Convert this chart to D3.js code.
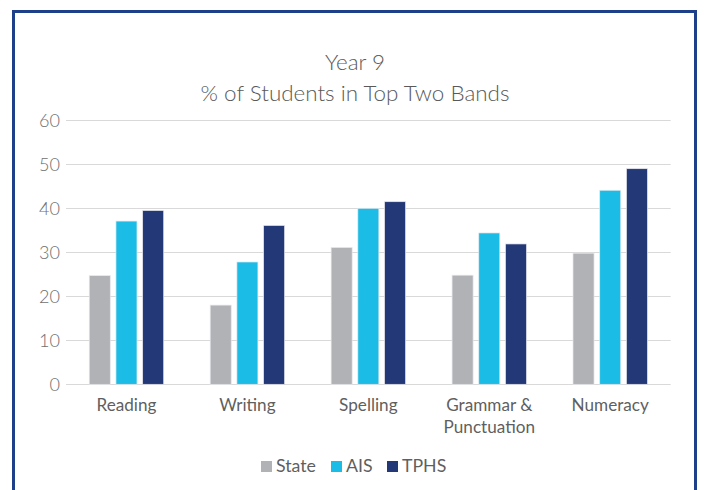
<!DOCTYPE html>
<html><head><meta charset="utf-8">
<script src="https://cdn.jsdelivr.net/npm/d3@7"></script>
<style>body{margin:0;background:#fff}svg{display:block}text{font-family:Lato,"Open Sans",sans-serif;font-weight:300}</style>
</head><body><svg id="c" width="704" height="490"></svg>
<script>
const categories = ["Reading", "Writing", "Spelling", "Grammar & Punctuation", "Numeracy"];
const seriesNames = ["State", "AIS", "TPHS"];
const stateVals = [24.7, 18.0, 31.1, 24.8, 29.8];
const aisVals = [37.1, 27.8, 40.0, 34.4, 44.1];
const tphsVals = [39.5, 36.1, 41.5, 31.9, 49.0];
const yTicks = [0, 10, 20, 30, 40, 50, 60];
const colors = ["#b1b2b6", "#1bbde6", "#233876"];
const seriesVals = [stateVals, aisVals, tphsVals];
const labelLines = {"Grammar & Punctuation": ["Grammar &", "Punctuation"]};

const svg = d3.select("#c");
function fit(sel, target) {
  const n = sel.node(); const fs = parseFloat(sel.attr("font-size"));
  const w = n.getComputedTextLength();
  const s = fs * target / w; sel.attr("font-size", s); return s;
}
// border
svg.append("rect").attr("x", 13.5).attr("y", 11.5).attr("width", 682).attr("height", 500)
  .attr("fill", "none").attr("stroke", "#1e3f8a").attr("stroke-width", 3);

const x0 = d3.scaleBand().domain(categories).range([66, 670.7]);
const x1 = d3.scaleBand().domain(seriesNames).range([0, x0.bandwidth()]).paddingInner(0.213).paddingOuter(0.87);
const y = d3.scaleLinear().domain([0, 60]).range([384.3, 120.3]);

// gridlines
svg.append("g").selectAll("line").data(yTicks).join("line")
  .attr("x1", 66).attr("x2", 670.7).attr("y1", d => Math.round(y(d)) + 0.5).attr("y2", d => Math.round(y(d)) + 0.5)
  .attr("stroke", "#d9d9d9").attr("stroke-width", 1);

// y tick labels
const t60 = svg.append("text").attr("font-size", 19).text("60");
const yfs = fit(t60, 21); t60.remove();
svg.append("g").selectAll("text").data(yTicks).join("text")
  .attr("x", 60).attr("y", d => y(d) + yfs * 0.36).attr("text-anchor", "end")
  .attr("font-size", yfs).attr("fill", "#6f6f6f").text(d => d);

// bars
const groups = svg.append("g").selectAll("g").data(categories).join("g")
  .attr("transform", c => `translate(${x0(c)},0)`);
groups.selectAll("rect").data((c, i) => seriesNames.map((s, j) => ({s, v: seriesVals[j][i], j})))
  .join("rect")
  .attr("x", d => x1(d.s)).attr("width", x1.bandwidth())
  .attr("y", d => y(d.v)).attr("height", d => y(0) - y(d.v))
  .attr("fill", d => colors[d.j]).attr("stroke", "#e8e8ee").attr("stroke-width", 0.7);

// x labels
const tr = svg.append("text").attr("font-size", 16).style("font-weight", 400).text("Reading");
const xfs = fit(tr, 60); const lh = tr.node().getBBox().height; tr.remove();
const xlData = [];
categories.forEach(c => (labelLines[c] || [c]).forEach((t, k) => xlData.push({c, t, k})));
svg.append("g").selectAll("text").data(xlData).join("text")
  .attr("x", d => x0(d.c) + x0.bandwidth() / 2).attr("y", d => 411 + d.k * Math.max(17, lh + 0.5))
  .attr("text-anchor", "middle").attr("font-size", xfs).style("font-weight", 400)
  .attr("fill", "#5f5f5f").text(d => d.t);

// title
const t1 = svg.append("text").attr("text-anchor", "middle").attr("fill", "#595959").attr("font-size", 20)
  .attr("x", 355).attr("y", 101).text("% of Students in Top Two Bands");
const tfs = fit(t1, 309);
svg.append("text").attr("text-anchor", "middle").attr("fill", "#595959").attr("font-size", tfs)
  .attr("x", 355).attr("y", 70).text("Year 9");

// legend
const legX = [261, 331, 387];
const ts = svg.append("text").attr("font-size", 16).style("font-weight", 400).text("State");
const lfs = fit(ts, 40); ts.remove();
const leg = svg.append("g").selectAll("g").data(seriesNames).join("g")
  .attr("transform", (d, i) => `translate(${legX[i]},461)`);
leg.append("rect").attr("width", 11).attr("height", 11).attr("fill", (d, i) => colors[i]);
leg.append("text").attr("x", 15).attr("y", 11).attr("font-size", lfs).style("font-weight", 400)
  .attr("fill", "#5f5f5f").text(d => d);
</script></body></html>
